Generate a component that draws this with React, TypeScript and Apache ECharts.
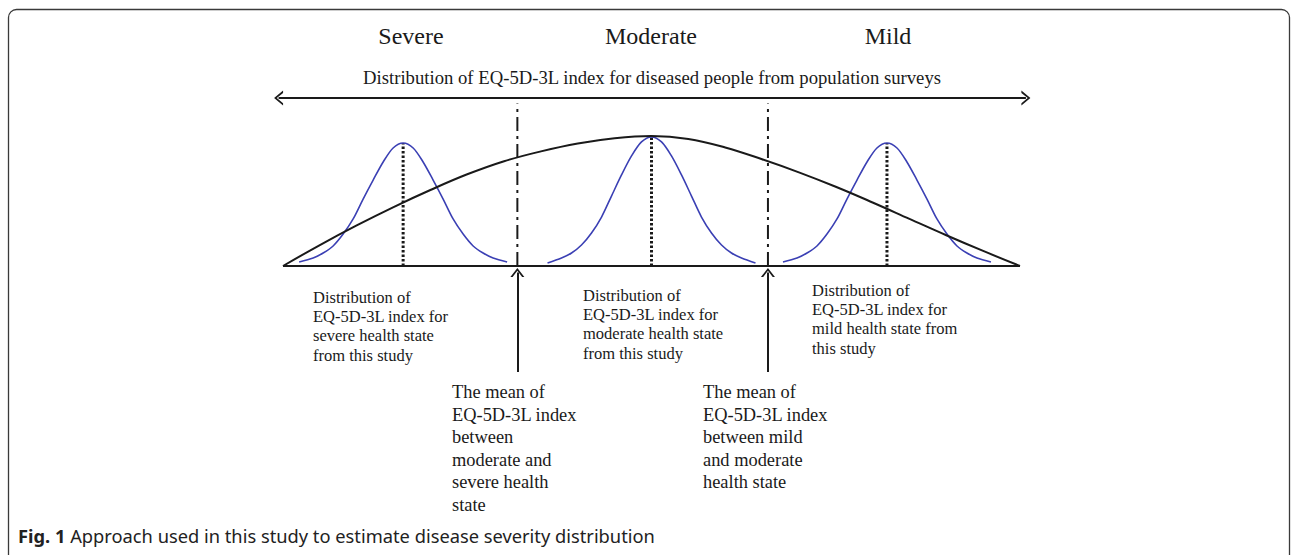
import React, { useEffect, useRef } from "react";
import * as echarts from "echarts";

// ---- data (index scale 0..1 along the baseline, density height relative to the population peak) ----
const severityLabels = ["Severe", "Moderate", "Mild"];
const peakCenters = [0.163, 0.5, 0.8195];
const peakHeights = [0.939, 0.985, 0.939];
const cutPoints = [0.318, 0.658];
const cutTop = 1.24;

const populationX = [0, 0.05, 0.1, 0.15, 0.2, 0.25, 0.3, 0.35, 0.4, 0.45, 0.5, 0.55, 0.6, 0.65, 0.7, 0.75, 0.8, 0.85, 0.9, 0.95, 1];
const populationY = [0, 0.16, 0.31, 0.45, 0.58, 0.7, 0.8, 0.875, 0.935, 0.975, 0.992, 0.97, 0.905, 0.815, 0.715, 0.605, 0.485, 0.36, 0.235, 0.115, 0];

const severeX = [0.0219, 0.0409, 0.0545, 0.068, 0.0816, 0.0952, 0.1087, 0.1223, 0.1359, 0.1494, 0.163, 0.1766, 0.1901, 0.2037, 0.2173, 0.2308, 0.2444, 0.258, 0.2715, 0.2851, 0.3041];
const severeY = [0.031, 0.061, 0.099, 0.153, 0.244, 0.359, 0.511, 0.656, 0.794, 0.901, 0.939, 0.901, 0.794, 0.656, 0.511, 0.359, 0.244, 0.153, 0.099, 0.061, 0.031];

const moderateX = [0.3589, 0.3779, 0.3915, 0.405, 0.4186, 0.4322, 0.4457, 0.4593, 0.4729, 0.4864, 0.5, 0.5136, 0.5271, 0.5407, 0.5543, 0.5678, 0.5814, 0.595, 0.6085, 0.6221, 0.6411];
const moderateY = [0.023, 0.061, 0.099, 0.16, 0.252, 0.374, 0.534, 0.695, 0.84, 0.947, 0.985, 0.947, 0.84, 0.695, 0.534, 0.374, 0.252, 0.16, 0.099, 0.061, 0.023];

const mildX = [0.6784, 0.6974, 0.711, 0.7245, 0.7381, 0.7517, 0.7652, 0.7788, 0.7924, 0.8059, 0.8195, 0.8331, 0.8466, 0.8602, 0.8738, 0.8873, 0.9009, 0.9145, 0.928, 0.9416, 0.9606];
const mildY = [0.031, 0.061, 0.099, 0.153, 0.244, 0.359, 0.511, 0.656, 0.794, 0.901, 0.939, 0.901, 0.794, 0.656, 0.511, 0.359, 0.244, 0.153, 0.099, 0.061, 0.031];

const surveyArrow = { from: -0.006, to: 1.008, level: 1.282 };
const meanArrow = { bottom: -0.809, top: -0.05 };

const surveyLabel = "Distribution of EQ-5D-3L index for diseased people from population surveys";
const studyNotes = [
  "Distribution of\nEQ-5D-3L index for\nsevere health state\nfrom this study",
  "Distribution of\nEQ-5D-3L index for\nmoderate health state\nfrom this study",
  "Distribution of\nEQ-5D-3L index for\nmild health state from\nthis study",
];
const meanNotes = [
  "The mean of\nEQ-5D-3L index\nbetween\nmoderate and\nsevere health\nstate",
  "The mean of\nEQ-5D-3L index\nbetween mild\nand moderate\nhealth state",
];
const captionBold = "Fig. 1";
const captionText = " Approach used in this study to estimate disease severity distribution";

const zip = (xs: number[], ys: number[]) => xs.map((x, i) => [x, ys[i]]);

const SERIF = '"Liberation Serif", "Times New Roman", serif';
const SANS = '"Noto Sans", "Open Sans", sans-serif';
const INK = "#1a1a1a";
const BLUE = "#3b40b4";
const CHEVRON = "path://M5,0 L10,10 L8.4,10 L5,3 L1.6,10 L0,10 Z";

export default function App() {
  const ref = useRef<HTMLDivElement>(null);

  useEffect(() => {
    if (!ref.current) return;
    const chart = echarts.init(ref.current, null, { renderer: "svg" });

    const densityLine = (name: string, xs: number[], ys: number[]) => ({
      name,
      type: "line",
      data: zip(xs, ys),
      smooth: 0.3,
      symbol: "none",
      silent: true,
      lineStyle: { color: BLUE, width: 1.6 },
      z: 3,
    });

    const series: any[] = [
      {
        name: "population",
        type: "line",
        data: zip(populationX, populationY),
        smooth: 0.4,
        symbol: "none",
        silent: true,
        lineStyle: { color: INK, width: 2 },
        z: 4,
      },
      densityLine("severe", severeX, severeY),
      densityLine("moderate", moderateX, moderateY),
      densityLine("mild", mildX, mildY),
      ...peakCenters.map((c, i) => ({
        name: "peak" + i,
        type: "line",
        data: [
          [c, 0],
          [c, peakHeights[i]],
        ],
        symbol: "none",
        silent: true,
        lineStyle: { color: INK, width: 3, type: [2.5, 2] },
        z: 2,
      })),
      ...cutPoints.map((c, i) => ({
        name: "cut" + i,
        type: "line",
        data: [
          [c, 0],
          [c, cutTop],
        ],
        symbol: "none",
        silent: true,
        lineStyle: { color: INK, width: 2, type: [14, 5, 3, 5] },
        z: 2,
      })),
      {
        name: "baseline",
        type: "line",
        data: [
          [0, 0],
          [1, 0],
        ],
        symbol: "none",
        silent: true,
        lineStyle: { color: INK, width: 2 },
        z: 5,
        markLine: {
          silent: true,
          animation: false,
          label: { show: false },
          emphasis: { disabled: true },
          lineStyle: { color: INK, width: 2, type: "solid" },
          data: [
            [
              { coord: [surveyArrow.from, surveyArrow.level], symbol: CHEVRON, symbolSize: [15, 9] },
              { coord: [surveyArrow.to, surveyArrow.level], symbol: CHEVRON, symbolSize: [15, 9] },
            ],
            ...cutPoints.map((c) => [
              { coord: [c, meanArrow.bottom], symbol: "none" },
              { coord: [c, meanArrow.top], symbol: CHEVRON, symbolSize: [14, 9] },
            ]),
          ],
        },
      },
    ];

    const textStyle = (text: string, size: number, lh: number) => ({
      text,
      fontFamily: SERIF,
      fontSize: size,
      lineHeight: lh,
      fill: INK,
    });

    const graphic: any[] = [
      {
        type: "rect",
        shape: { x: 8.5, y: 9.5, width: 1281, height: 560, r: 8 },
        style: { fill: "none", stroke: "#3a3a3a", lineWidth: 1.3 },
        silent: true,
      },
      ...severityLabels.map((t, i) => ({
        type: "text",
        x: [411, 651, 888][i],
        y: 36,
        style: { ...textStyle(t, 24, 27), align: "center", verticalAlign: "middle" },
        silent: true,
      })),
      {
        type: "text",
        x: 652,
        y: 77,
        style: { ...textStyle(surveyLabel, 18.7, 21), align: "center", verticalAlign: "middle" },
        silent: true,
      },
      ...studyNotes.map((t, i) => ({
        type: "text",
        x: [313, 583, 812][i],
        y: [287.5, 285.5, 280.5][i],
        style: { ...textStyle(t, 16.5, 19.3), align: "left", verticalAlign: "top" },
        silent: true,
      })),
      ...meanNotes.map((t, i) => ({
        type: "text",
        x: [452, 703][i],
        y: 380.7,
        style: { ...textStyle(t, 18.4, 22.6), align: "left", verticalAlign: "top" },
        silent: true,
      })),
      {
        type: "text",
        x: 18,
        y: 535,
        style: {
          text: "{b|" + captionBold + "}" + captionText,
          fontFamily: SANS,
          fontSize: 18.3,
          fill: "#222",
          verticalAlign: "middle",
          rich: {
            b: { fontWeight: "bold", fontFamily: SANS, fontSize: 18.3, fill: "#222" },
          },
        },
        silent: true,
      },
    ];

    chart.setOption({
      animation: false,
      backgroundColor: "#ffffff",
      grid: { left: 268.26, right: 257.26, top: 95.7, bottom: 177.65, containLabel: false },
      xAxis: { type: "value", min: -0.02, max: 1.02, show: false, splitLine: { show: false } },
      yAxis: { type: "value", min: -0.85, max: 1.3, show: false, splitLine: { show: false } },
      series,
      graphic,
    });

    return () => chart.dispose();
  }, []);

  return (
    <div
      ref={ref}
      style={{ position: "fixed", left: 0, top: 0, width: 1292, height: 555, background: "#fff" }}
    />
  );
}
